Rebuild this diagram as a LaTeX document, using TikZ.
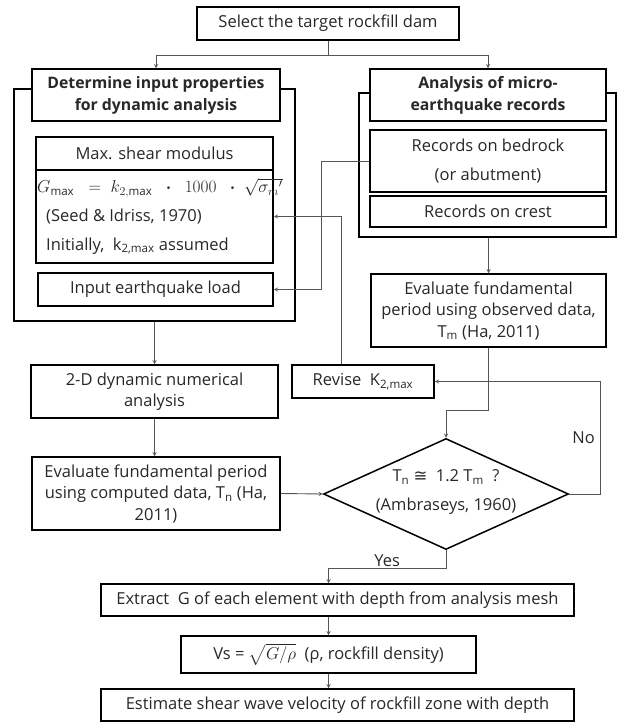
\documentclass[tikz,border=0pt]{standalone}
\usepackage{amsmath}
\usepackage{fontspec}
\setmainfont{Open Sans}
\newfontfamily\symfont{DejaVu Sans}
\usetikzlibrary{shapes,arrows,positioning,fit,backgrounds,calc}
\definecolor{txtgray}{RGB}{40,40,40}
\definecolor{linegray}{RGB}{85,85,85}
\newcommand{\flowfont}{\fontsize{16.5}{21.5}\selectfont}
\newcommand{\headfont}{\fontsize{15.8}{22}\selectfont\bfseries}

\begin{document}
\begin{tikzpicture}[x=1pt, y=-1pt,
    box/.style={draw, line width=1.5pt, fill=white, text=txtgray, font=\flowfont, align=center, inner sep=0pt},
    outline/.style={draw, line width=1.5pt, inner sep=0pt},
    decision/.style={diamond, draw, line width=1.5pt, inner sep=0pt},
    arrow/.style={->, >=stealth, line width=0.9pt, draw=linegray},
    tag/.style={text=txtgray, font=\flowfont, inner sep=1pt}
]
\useasboundingbox (0,0) rectangle (617,722);

% Start
\node[box, minimum width=262pt, minimum height=33pt] (target) at (328,23.5) {Select the target rockfill dam};

% Left group: input properties
\node[outline, minimum width=281pt, minimum height=232pt] (leftgrp) at (154.5,205) {};
\node[box, font=\headfont, minimum width=248pt, minimum height=52pt] (inputhead) at (156,95) {Determine input properties\\for dynamic analysis};
\node[box, minimum width=237pt, minimum height=33pt] (gmaxhead) at (154.5,153.5) {Max. shear modulus};
\node[box, minimum width=237pt, minimum height=93pt] (gmaxbody) at (154.5,216.5) {};
\node[tag, anchor=west, font=\fontsize{16.5}{20}\selectfont] (gmaxeq) at (36,188) {$G_{\max}\;\;=\;k_{2,\max}\;\;\boldsymbol{\cdot}\;\;1000\;\;\boldsymbol{\cdot}\;\sqrt{{\sigma_m}'}$};
\node[tag, anchor=west] (seed) at (45,217) {(Seed \& Idriss, 1970)};
\node[tag, anchor=west] (initk) at (45,246) {Initially,\ \ k\textsubscript{2,max} assumed};
\node[box, minimum width=235pt, minimum height=33pt] (eqload) at (155.5,289.5) {Input earthquake load};

% Right group: micro-earthquake records
\node[outline, minimum width=257pt, minimum height=144pt] (rightgrp) at (487.5,165) {};
\node[box, font=\headfont, minimum width=236pt, minimum height=52pt] (recordhead) at (488,95) {Analysis of micro-\\earthquake records};
\node[box, minimum width=236pt, minimum height=62pt] (bedrock) at (488,161) {Records on bedrock\\[8pt](or abutment)};
\node[box, minimum width=236pt, minimum height=31pt] (crest) at (488,211.5) {Records on crest};
\node[box, minimum width=235pt, minimum height=73pt] (tmeval) at (488.5,310.5) {Evaluate fundamental\\period using observed data,\\T\textsubscript{m} (Ha, 2011)};

% Analysis loop
\node[box, minimum width=142pt, minimum height=33pt] (revise) at (363,381.5) {Revise\ \ K\textsubscript{2,max}};
\node[box, minimum width=247pt, minimum height=53pt] (numan) at (154.5,391.5) {2-D dynamic numerical\\analysis};
\node[box, minimum width=248pt, minimum height=73pt] (tneval) at (156,493.5) {Evaluate fundamental period\\using computed data, T\textsubscript{n} (Ha,\\2011)};
\node[decision, minimum width=245pt, minimum height=111pt] (check) at (446,494) {};
\node[tag] (checkq) at ([yshift=17pt]check.center) {T\textsubscript{n}\ {\symfont ≅}\ \ 1.2 T\textsubscript{m}\ \ ?};
\node[tag] (checkref) at ([yshift=-12pt]check.center) {(Ambraseys, 1960)};

% Results
\node[box, minimum width=473pt, minimum height=32pt] (extract) at (337.5,600) {Extract\ \ G of each element with depth from analysis mesh};
\node[box, minimum width=295pt, minimum height=37pt] (vsbox) at (328.5,654.5) {Vs = $\sqrt{G/\rho}$\ \ (ρ, rockfill density)};
\node[box, minimum width=473pt, minimum height=32pt] (vsdepth) at (337.5,705) {Estimate shear wave velocity of rockfill zone with depth};

% Arrows
\draw[arrow] (target.south) -- ++(0,15) -| (inputhead.north);
\draw[arrow] (target.south) -- ++(0,15) -| (recordhead.north);
\draw[arrow] (leftgrp.south) -- (leftgrp.south |- numan.north);
\draw[arrow] (numan.south) -- (numan.south |- tneval.north);
\draw[arrow] (tneval.east) -- (check.west);
\draw[arrow] (tmeval.north |- rightgrp.south) -- (tmeval.north);
\draw[arrow] (tmeval.south) -- ++(0,63) -| (check.north);
\draw[arrow] (check.east) -- ++(31,0) |- node[pos=0.25, left, tag, xshift=-4pt] (nolbl) {No} (revise.east);
\draw[arrow] ([xshift=-22pt]revise.north) |- (gmaxbody.east);
\draw[arrow] (bedrock.west) -- ++(-48,0) |- (eqload.east);
\draw[arrow] (check.south) -- ++(0,18) -| node[pos=0.25, above, tag] (yeslbl) {Yes} (vsbox.north |- extract.north);
\draw[arrow] (vsbox.north |- extract.south) -- (vsbox.north);
\draw[arrow] (vsbox.south) -- (vsbox.south |- vsdepth.north);

\end{tikzpicture}
\end{document}
